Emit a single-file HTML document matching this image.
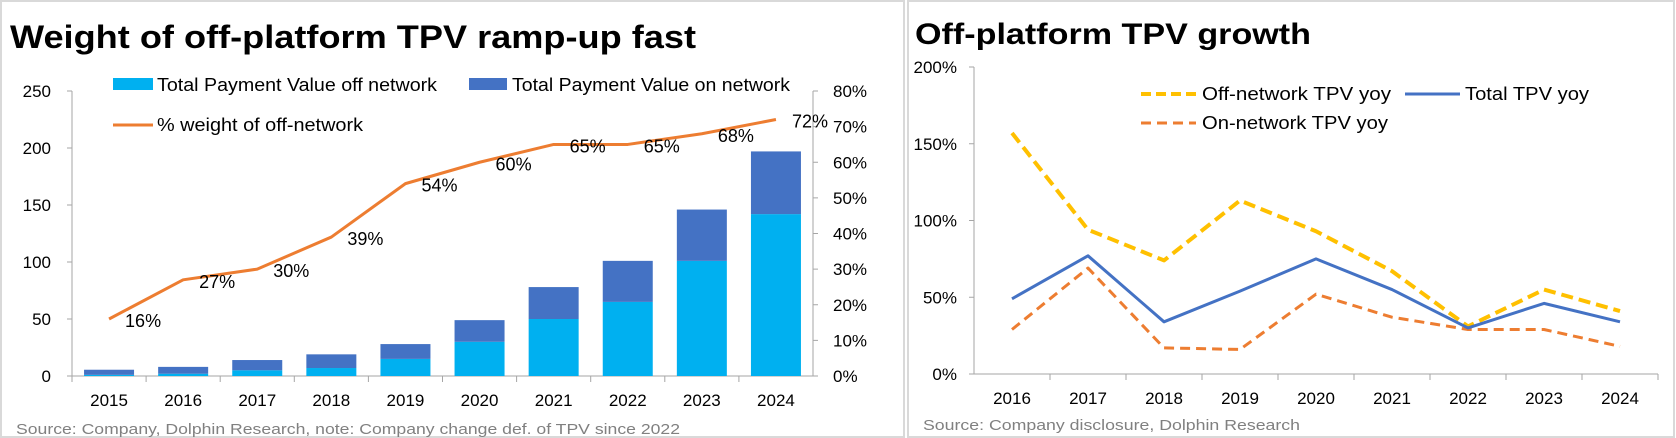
<!DOCTYPE html>
<html><head><meta charset="utf-8"><style>
html,body{margin:0;padding:0;background:#fff;}
svg{display:block;font-family:"Liberation Sans",sans-serif;}
</style></head><body>
<svg id="svg" width="1676" height="438" viewBox="0 0 1676 438">
<rect x="1" y="1" width="903" height="436" fill="#fff" stroke="#d9d9d9" stroke-width="2"/>
<rect x="908" y="1" width="766" height="436" fill="#fff" stroke="#d9d9d9" stroke-width="2"/>
<text x="10" y="48" font-size="32" font-weight="bold" textLength="686" lengthAdjust="spacingAndGlyphs">Weight of off-platform TPV ramp-up fast</text>
<text x="915" y="44" font-size="30" font-weight="bold" textLength="396" lengthAdjust="spacingAndGlyphs">Off-platform TPV growth</text>
<g id="left"></g><g id="right"></g>
<rect x="113" y="78" width="40" height="12" fill="#00B0F0"/>
<text x="157" y="91" font-size="18" textLength="280" lengthAdjust="spacingAndGlyphs">Total Payment Value off network</text>
<rect x="469" y="78" width="38" height="12" fill="#4472C4"/>
<text x="512" y="91" font-size="18" textLength="278" lengthAdjust="spacingAndGlyphs">Total Payment Value on network</text>
<line x1="113" y1="125" x2="153" y2="125" stroke="#ED7D31" stroke-width="3"/>
<text x="157" y="131" font-size="18" textLength="206" lengthAdjust="spacingAndGlyphs">% weight of off-network</text>
<line x1="1141" y1="94" x2="1196" y2="94" stroke="#FFC000" stroke-width="4" stroke-dasharray="10,5"/>
<text x="1202" y="100" font-size="18" textLength="189" lengthAdjust="spacingAndGlyphs">Off-network TPV yoy</text>
<line x1="1405" y1="94" x2="1460" y2="94" stroke="#4472C4" stroke-width="3"/>
<text x="1465" y="100" font-size="18" textLength="124" lengthAdjust="spacingAndGlyphs">Total TPV yoy</text>
<line x1="1141" y1="123" x2="1196" y2="123" stroke="#ED7D31" stroke-width="3" stroke-dasharray="10,6"/>
<text x="1202" y="129" font-size="18" textLength="186" lengthAdjust="spacingAndGlyphs">On-network TPV yoy</text>
<text x="16" y="434" font-size="15" fill="#808080" textLength="664" lengthAdjust="spacingAndGlyphs">Source: Company, Dolphin Research, note: Company change def. of TPV since 2022</text>
<text x="923" y="430" font-size="15" fill="#808080" textLength="377" lengthAdjust="spacingAndGlyphs">Source: Company disclosure, Dolphin Research</text>
</svg>
<script>
const leftYears=["2015","2016","2017","2018","2019","2020","2021","2022","2023","2024"];
const offTPV=[1,2,5,7,15,30,50,65,101,142];
const totalTPV=[5.5,8,14,19,28,49,78,101,146,197];
const weightPct=[16,27,30,39,54,60,65,65,68,72];
const leftTicks=[0,50,100,150,200,250];
const rightTicks=[0,10,20,30,40,50,60,70,80];
const rightYears=["2016","2017","2018","2019","2020","2021","2022","2023","2024"];
const offYoy=[157,94,74,113,93,67,31,55,41];
const totalYoy=[49,77,34,54,75,55,30,46,34];
const onYoy=[29,69,17,16,52,37,29,29,18];
const yoyTicks=[0,50,100,150,200];
const NS="http://www.w3.org/2000/svg";
function mk(p,t,a,txt){const e=document.createElementNS(NS,t);for(const k in a)e.setAttribute(k,a[k]);if(txt!==undefined)e.textContent=txt;p.appendChild(e);return e;}
const L=document.getElementById('left');
const lx0=72,lx1=813,ly0=376,ly1=91;
const bw=(lx1-lx0)/leftYears.length;
const yL=v=>ly0-(v/250)*(ly0-ly1);
const yR=v=>ly0-(v/80)*(ly0-ly1);
const xL=i=>lx0+bw*(i+0.5);
let e;
e=mk(L,'line',{x1:lx0,y1:ly1,x2:lx0,y2:ly0,stroke:'#a6a6a6'});

e=mk(L,'line',{x1:lx1,y1:ly1,x2:lx1,y2:ly0,stroke:'#a6a6a6'});

e=mk(L,'line',{x1:lx0,y1:ly0,x2:lx1,y2:ly0,stroke:'#a6a6a6'});

leftTicks.forEach(v=>{mk(L,'line',{x1:lx0-5,y1:yL(v),x2:lx0,y2:yL(v),stroke:'#a6a6a6'});
 e=mk(L,'text',{x:51,y:yL(v)+6,'font-size':17,'text-anchor':'end'},String(v));
 });
rightTicks.forEach(v=>{mk(L,'line',{x1:lx1,y1:yR(v),x2:lx1+5,y2:yR(v),stroke:'#a6a6a6'});
 e=mk(L,'text',{x:833,y:yR(v)+6,'font-size':17},v+'%');
 });
leftYears.forEach((y,i)=>{
 mk(L,'line',{x1:lx0+bw*i,y1:ly0,x2:lx0+bw*i,y2:ly0+6,stroke:'#a6a6a6'});
 e=mk(L,'rect',{x:xL(i)-25,y:yL(offTPV[i]),width:50,height:ly0-yL(offTPV[i]),fill:'#00B0F0'});
 
 e=mk(L,'rect',{x:xL(i)-25,y:yL(totalTPV[i]),width:50,height:yL(offTPV[i])-yL(totalTPV[i]),fill:'#4472C4'});
 
 e=mk(L,'text',{x:xL(i),y:406,'font-size':17,'text-anchor':'middle'},y);
 
});
e=mk(L,'polyline',{points:weightPct.map((v,i)=>xL(i)+','+yR(v)).join(' '),fill:'none',stroke:'#ED7D31','stroke-width':3,'stroke-linejoin':'round'});

weightPct.forEach((v,i)=>{
 e=mk(L,'text',{x:xL(i)+16,y:yR(v)+8,'font-size':18},v+'%');
 
});
const R=document.getElementById('right');
const rx0=974,rx1=1658,ry0=374,ry1=67;
const rbw=(rx1-rx0)/rightYears.length;
const xR=i=>rx0+rbw*(i+0.5);
const yY=v=>ry0-(v/200)*(ry0-ry1);
e=mk(R,'line',{x1:rx0,y1:ry1,x2:rx0,y2:ry0,stroke:'#a6a6a6'});

e=mk(R,'line',{x1:rx0,y1:ry0,x2:rx1,y2:ry0,stroke:'#a6a6a6'});

yoyTicks.forEach(v=>{mk(R,'line',{x1:rx0-5,y1:yY(v),x2:rx0,y2:yY(v),stroke:'#a6a6a6'});
 e=mk(R,'text',{x:957,y:yY(v)+6,'font-size':17,'text-anchor':'end'},v+'%');
 });
rightYears.forEach((y,i)=>{
 mk(R,'line',{x1:rx0+rbw*(i+1),y1:ry0,x2:rx0+rbw*(i+1),y2:ry0+6,stroke:'#a6a6a6'});
 e=mk(R,'text',{x:xR(i),y:404,'font-size':17,'text-anchor':'middle'},y);
 
});
function series(arr,color,w,dash,name){
 const a={points:arr.map((v,i)=>xR(i)+','+yY(v)).join(' '),fill:'none',stroke:color,'stroke-width':w,'stroke-linejoin':'round'};
 if(dash)a['stroke-dasharray']=dash;
 const el=mk(R,'polyline',a);
 
 
}
series(onYoy,'#ED7D31',3,'10,6','on-network-yoy-line');
series(offYoy,'#FFC000',4,'12,6','off-network-yoy-line');
series(totalYoy,'#4472C4',3,null,'total-yoy-line');
</script>
</body></html>
